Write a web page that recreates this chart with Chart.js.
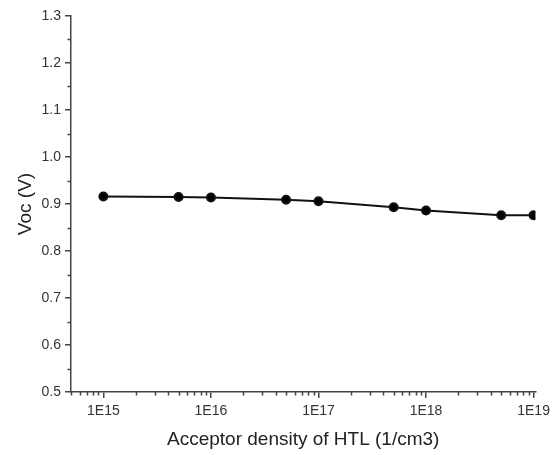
<!DOCTYPE html>
<html>
<head>
<meta charset="utf-8">
<script src="https://cdn.jsdelivr.net/npm/chart.js@4"></script>
<style>
  html, body { margin: 0; padding: 0; background: #fff; }
  #wrap { width: 555px; height: 455px; }
</style>
</head>
<body>
<div id="wrap"><canvas id="vocChart" width="555" height="455"></canvas></div>
<script>
// acceptor density of HTL (1/cm3) vs Voc (V)
const density = [1e15, 5e15, 1e16, 5e16, 1e17, 5e17, 1e18, 5e18, 1e19];
const voc = [0.916, 0.915, 0.914, 0.909, 0.906, 0.893, 0.886, 0.876, 0.876];
const decadeTicks = [1e15, 1e16, 1e17, 1e18, 1e19];
const decadeLabels = ['1E15', '1E16', '1E17', '1E18', '1E19'];

const textColor = '#333';
const axisColor = '#444';

// short minor ticks drawn through the scales
const minorTicks = {
  id: 'minorTicks',
  afterDraw(chart) {
    const c = chart.ctx;
    const xs = chart.scales.x, ys = chart.scales.y;
    c.save();
    c.strokeStyle = axisColor;
    c.lineWidth = 1.5;
    c.beginPath();
    for (let e = 14; e <= 18; e++) {
      for (let m = 2; m <= 9; m++) {
        const v = m * Math.pow(10, e);
        if (v < xs.min || v > xs.max) continue;
        const px = Math.round(xs.getPixelForValue(v)) + 0.5;
        c.moveTo(px, xs.top);
        c.lineTo(px, xs.top + 3.5);
      }
    }
    for (let v = 0.55; v < 1.3; v += 0.1) {
      const py = Math.round(ys.getPixelForValue(v)) + 0.5;
      c.moveTo(ys.right, py);
      c.lineTo(ys.right - 3.5, py);
    }
    c.stroke();
    c.restore();
  }
};

new Chart(document.getElementById('vocChart'), {
  type: 'line',
  data: {
    datasets: [{
      data: density.map((d, i) => ({ x: d, y: voc[i] })),
      borderColor: '#111',
      backgroundColor: '#000',
      borderWidth: 2,
      pointRadius: 4,
      pointHoverRadius: 4,
      tension: 0
    }]
  },
  options: {
    responsive: false,
    animation: false,
    layout: { padding: { top: 16, right: 17, left: 10, bottom: 0 } },
    plugins: { legend: { display: false }, tooltip: { enabled: false } },
    scales: {
      x: {
        type: 'logarithmic',
        min: 5e14,
        max: 1.04e19,
        afterFit(s) { s.height = 63; },
        afterBuildTicks(s) { s.ticks = decadeTicks.map(v => ({ value: v })); },
        grid: { drawOnChartArea: false, drawTicks: true, tickLength: 6, color: axisColor, lineWidth: 1.5 },
        border: { display: true, color: axisColor, width: 1.5 },
        ticks: {
          color: textColor,
          font: { family: 'Liberation Sans, Arial', size: 14 },
          padding: 5,
          maxRotation: 0,
          autoSkip: false,
          callback: (v) => decadeLabels[decadeTicks.indexOf(v)] ?? ''
        },
        title: {
          display: true,
          text: 'Acceptor density of HTL (1/cm3)',
          color: '#222',
          font: { family: 'Liberation Sans, Arial', size: 19 },
          padding: { top: 4 }
        }
      },
      y: {
        min: 0.5,
        max: 1.3,
        afterFit(s) { s.width = 61; },
        grid: { drawOnChartArea: false, drawTicks: true, tickLength: 6, color: axisColor, lineWidth: 1.5 },
        border: { display: true, color: axisColor, width: 1.5 },
        ticks: {
          stepSize: 0.1,
          color: textColor,
          font: { family: 'Liberation Sans, Arial', size: 14 },
          padding: 4,
          callback: (v) => v.toFixed(1)
        },
        title: {
          display: true,
          text: 'Voc (V)',
          color: '#222',
          font: { family: 'Liberation Sans, Arial', size: 19 },
          padding: { bottom: 6 }
        }
      }
    }
  },
  plugins: [minorTicks]
});
</script>
</body>
</html>
